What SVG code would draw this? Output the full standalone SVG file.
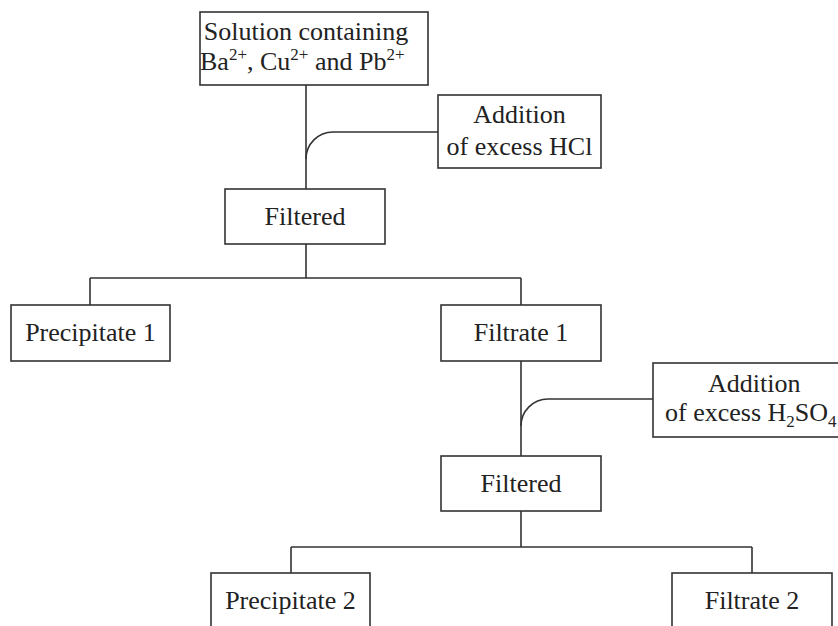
<svg xmlns="http://www.w3.org/2000/svg" width="838" height="626" viewBox="0 0 838 626">
<style>
.box{fill:#fff;stroke:#333;stroke-width:1.6}
.ln{fill:none;stroke:#333;stroke-width:1.6}
.t{font-family:"Liberation Serif","Times New Roman",serif;font-size:26px;fill:#222}
.m{text-anchor:middle}
.s{font-size:17px}
</style>
<rect width="838" height="626" fill="#fff"/>
<g id="connectors">
<path class="ln" d="M306 85V189"/>
<path class="ln" d="M438 132H333A27 27 0 0 0 306 159"/>
<path class="ln" d="M306 244V278M90 278H521M90 278V305M521 278V305"/>
<path class="ln" d="M521 361V456"/>
<path class="ln" d="M653 399H548A27 27 0 0 0 521 426"/>
<path class="ln" d="M521 511V547M291 547H752M291 547V573M752 547V573"/>
</g>
<g id="start">
<rect class="box" x="200" y="12" width="228" height="73"/>
<text class="t m" x="306" y="40">Solution containing</text>
<text class="t" x="200" y="70">Ba<tspan class="s" dy="-10">2+</tspan><tspan dy="10">, Cu</tspan><tspan class="s" dy="-10">2+</tspan><tspan dy="10"> and Pb</tspan><tspan class="s" dy="-10">2+</tspan></text>
</g>
<g id="hcl">
<rect class="box" x="438" y="95" width="163" height="73"/>
<text class="t m" x="519.5" y="123">Addition</text>
<text class="t m" x="519.5" y="155">of excess HCl</text>
</g>
<g id="filtered1">
<rect class="box" x="225" y="189" width="160" height="55"/>
<text class="t m" x="305" y="225">Filtered</text>
</g>
<g id="precipitate1">
<rect class="box" x="11" y="305" width="159" height="56"/>
<text class="t m" x="90.5" y="341">Precipitate 1</text>
</g>
<g id="filtrate1">
<rect class="box" x="441" y="305" width="160" height="56"/>
<text class="t m" x="521" y="341">Filtrate 1</text>
</g>
<g id="h2so4">
<rect class="box" x="653" y="363" width="200" height="74"/>
<text class="t" x="708" y="392">Addition</text>
<text class="t" x="665" y="421">of excess H<tspan class="s" dy="6">2</tspan><tspan dy="-6">SO</tspan><tspan class="s" dy="6">4</tspan></text>
</g>
<g id="filtered2">
<rect class="box" x="441" y="456" width="160" height="55"/>
<text class="t m" x="521" y="492">Filtered</text>
</g>
<g id="precipitate2">
<rect class="box" x="211" y="573" width="159" height="70"/>
<text class="t m" x="290.5" y="609">Precipitate 2</text>
</g>
<g id="filtrate2">
<rect class="box" x="672" y="573" width="160" height="70"/>
<text class="t m" x="752" y="609">Filtrate 2</text>
</g>
</svg>
